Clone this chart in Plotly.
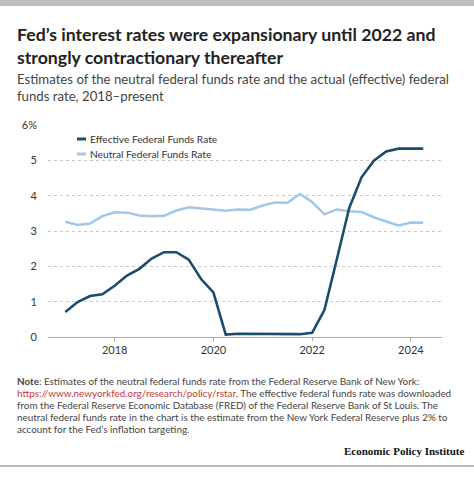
import plotly.graph_objects as go

# quarterly observations, 2017Q1 - 2024Q2
quarters = [2017 + i * 0.25 for i in range(30)]
effective_rate = [0.71, 0.99, 1.16, 1.21, 1.45, 1.74, 1.93, 2.22, 2.40, 2.40,
                  2.19, 1.64, 1.26, 0.07, 0.09, 0.09, 0.08, 0.07, 0.09, 0.08,
                  0.12, 0.77, 2.20, 3.65, 4.52, 4.99, 5.25, 5.33, 5.33, 5.33]
neutral_rate = [3.26, 3.17, 3.21, 3.42, 3.53, 3.52, 3.44, 3.42, 3.43, 3.58,
                3.67, 3.64, 3.60, 3.57, 3.61, 3.60, 3.72, 3.81, 3.80, 4.05,
                3.82, 3.47, 3.61, 3.56, 3.54, 3.39, 3.27, 3.16, 3.24, 3.23]
y_ticks = [0, 1, 2, 3, 4, 5, 6]
y_tick_text = ["0", "1", "2", "3", "4", "5", "6%"]
x_ticks = [2018, 2020, 2022, 2024]

DARK = "#1c4b6c"
LIGHT = "#a2c7e6"
FONT = "Lato"

W, H = 474, 484
L, R, T, B = 48, 32, 125, 147
plot_h = H - T - B
plot_w = W - L - R


# helpers to place page furniture by pixel position
def py(p):
    return (H - B - p) / plot_h


def px(p):
    return (p - L) / plot_w


fig = go.Figure()
fig.add_trace(go.Scatter(x=quarters, y=neutral_rate, mode="lines",
                         name="Neutral Federal Funds Rate",
                         line=dict(color=LIGHT, width=2.5)))
fig.add_trace(go.Scatter(x=quarters, y=effective_rate, mode="lines",
                         name="Effective Federal Funds Rate",
                         line=dict(color=DARK, width=2.6)))

fig.update_layout(
    width=W, height=H,
    margin=dict(l=L, r=R, t=T, b=B),
    paper_bgcolor="white", plot_bgcolor="white",
    showlegend=False,
    font=dict(family=FONT, color="#333"),
)
fig.update_xaxes(range=[2016.65, 2024.63], tickvals=x_ticks,
                 showgrid=False, zeroline=False,
                 showline=True, linecolor="#aaa", linewidth=1,
                 ticks="outside", ticklen=3, tickcolor="#aaa",
                 tickfont=dict(size=11, color="#333"))
fig.update_yaxes(range=[0, 6], tickvals=y_ticks, ticktext=y_tick_text,
                 showgrid=True, gridcolor="#c8c8c8", griddash="dot",
                 zeroline=False, showline=False,
                 ticklabelstandoff=10,
                 tickfont=dict(size=11, color="#333"))

# titles
fig.add_annotation(xref="paper", yref="paper", x=px(15), y=py(22),
                   xanchor="left", yanchor="top", align="left",
                   text="<b>Fed’s interest rates were expansionary until 2022 and<br>strongly contractionary thereafter</b>",
                   font=dict(size=17.7, color="#222"), showarrow=False)
fig.add_annotation(xref="paper", yref="paper", x=px(15), y=py(69),
                   xanchor="left", yanchor="top", align="left",
                   text="Estimates of the neutral federal funds rate and the actual (effective) federal<br>funds rate, 2018–present",
                   font=dict(size=13.2, color="#444"), showarrow=False)

# legend
legend_items = [("Effective Federal Funds Rate", DARK, 139),
                ("Neutral Federal Funds Rate", LIGHT, 154)]
for label, color, yy in legend_items:
    fig.add_shape(type="line", xref="paper", yref="paper",
                  x0=px(77), x1=px(86), y0=py(yy), y1=py(yy),
                  line=dict(color=color, width=3))
    fig.add_annotation(xref="paper", yref="paper", x=px(88), y=py(yy),
                       xanchor="left", yanchor="middle", text=label,
                       font=dict(size=10.2, color="#333"), showarrow=False)

# note
note_lines = [
    "<b>Note</b>: Estimates of the neutral federal funds rate from the Federal Reserve Bank of New York:",
    "<span style='color:#c23b3b'>https://www.newyorkfed.org/research/policy/rstar</span>. The effective federal funds rate was downloaded",
    "from the Federal Reserve Economic Database (FRED) of the Federal Reserve Bank of St Louis. The",
    "neutral federal funds rate in the chart is the estimate from the New York Federal Reserve plus 2% to",
    "account for the Fed’s inflation targeting.",
]
for i, line in enumerate(note_lines):
    fig.add_annotation(xref="paper", yref="paper", x=px(15), y=py(381 + i * 12),
                       xanchor="left", yanchor="middle", text=line,
                       font=dict(size=9.9, color="#444"), showarrow=False)

fig.add_annotation(xref="paper", yref="paper", x=px(466), y=py(451),
                   xanchor="right", yanchor="middle",
                   text="<b>Economic Policy Institute</b>",
                   font=dict(size=11, family="Liberation Serif", color="#111"),
                   showarrow=False)

# top band and bottom rule
fig.add_shape(type="rect", xref="paper", yref="paper",
              x0=px(0), x1=px(W), y0=py(6), y1=py(0),
              fillcolor="#bdbdbd", line=dict(width=0))
fig.add_shape(type="line", xref="paper", yref="paper",
              x0=px(0), x1=px(W), y0=py(466), y1=py(466),
              line=dict(color="#bdbdbd", width=2))

# drop the page's default body margin so the figure sits at the window corner
fig.write_html("out.html", config={"displayModeBar": False},
               post_script="document.body.style.margin='0';")
